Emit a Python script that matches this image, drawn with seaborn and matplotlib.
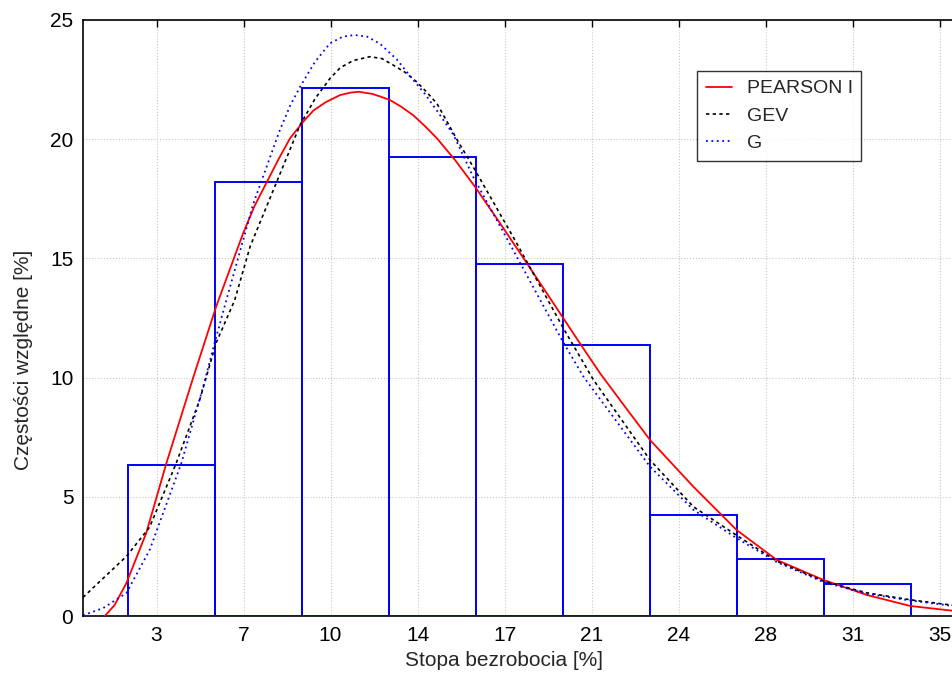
import matplotlib
matplotlib.use("Agg")
import matplotlib.pyplot as plt
import seaborn as sns
import numpy as np
import pandas as pd

# histogram: bin edges and relative frequencies [%]
bin_edges = [1.85, 5.40, 8.95, 12.50, 16.05, 19.60, 23.15, 26.70, 30.25, 33.80]
freq = [6.33, 18.2, 22.15, 19.25, 14.77, 11.37, 4.24, 2.39, 1.34]

# fitted densities
pearson_x = [0.89, 1.29, 1.77, 2.58, 3.4, 4.49, 5.43, 6.54, 7.0, 7.5, 8.0, 8.45, 9.0, 9.4,
             9.9, 10.49, 10.9, 11.24, 11.8, 12.1, 12.53, 13.0, 13.48, 13.95, 14.44, 15.2,
             16.0, 17.0, 18.11, 19.6, 20.3, 21.1, 22.1, 23.14, 24.91, 26.68, 28.31,
             30.22, 31.99, 33.76, 35.5, 36.5]
pearson_y = [0.0, 0.46, 1.38, 3.48, 6.4, 9.98, 12.97, 16.07, 17.2, 18.2, 19.2, 20.04, 20.75, 21.2,
             21.55, 21.85, 21.95, 21.99, 21.9, 21.8, 21.64, 21.35, 21.0, 20.55, 20.04, 19.1,
             18.0, 16.5, 14.8, 12.49, 11.4, 10.18, 8.8, 7.38, 5.42, 3.6, 2.35,
             1.51, 0.88, 0.42, 0.22, 0.15]

gev_x = [0.0, 0.82, 1.77, 2.72, 3.8, 4.76, 5.43, 6.19, 6.82, 7.9, 8.86, 9.47, 10.08, 10.5,
         11.03, 11.71, 12.2, 12.67, 13.15, 13.62, 14.0, 14.44, 15.25, 16.0, 17.7, 19.6,
         20.83, 23.14, 24.91, 26.75, 28.31, 30.22, 31.99, 33.76, 35.5, 36.5]
gev_y = [0.78, 1.58, 2.5, 3.73, 6.4, 9.06, 11.45, 13.25, 15.5, 18.2, 20.6, 21.7, 22.55, 23.0,
         23.3, 23.46, 23.38, 23.1, 22.8, 22.4, 22.0, 21.5, 20.0, 18.7, 15.63, 12.07,
         9.9, 6.54, 4.58, 3.33, 2.3, 1.46, 0.97, 0.68, 0.45, 0.36]

g_x = [0.0, 0.82, 1.77, 2.72, 4.01, 4.9, 5.37, 5.85, 6.95, 8.04, 8.45, 8.86, 9.47, 10.08,
       10.6, 11.1, 11.6, 12.12, 12.8, 13.48, 13.95, 14.44, 15.12, 15.93, 17.7, 19.54,
       20.42, 23.14, 24.91, 26.68, 28.31, 30.22, 31.99, 33.76, 35.5, 36.5]
g_y = [0.03, 0.33, 0.96, 2.77, 6.4, 9.6, 11.45, 13.25, 17.3, 20.4, 21.4, 22.2, 23.25, 24.02,
       24.3, 24.37, 24.3, 24.0, 23.35, 22.48, 21.9, 21.2, 20.18, 18.4, 15.07, 11.58,
       10.04, 6.26, 4.45, 3.26, 2.26, 1.42, 0.93, 0.65, 0.42, 0.34]

xtick_labels = ["3", "7", "10", "14", "17", "21", "24", "28", "31", "35"]

sns.set_style("white")
plt.rcParams['font.family'] = ['Liberation Sans', 'DejaVu Sans']

fig = plt.figure(figsize=(9.53, 6.77), dpi=100)
ax = fig.add_axes([0.0871, 0.0901, 0.93, 0.8804])

centers = [(bin_edges[i] + bin_edges[i + 1]) / 2 for i in range(len(freq))]
sns.histplot(x=centers, weights=freq, bins=bin_edges, fill=False, color="#0000ff",
             linewidth=1.4, element="bars", ax=ax, zorder=3)

sns.lineplot(x=pearson_x, y=pearson_y, color="red", linewidth=1.3, ax=ax,
             estimator=None, label="PEARSON I", zorder=4)
sns.lineplot(x=gev_x, y=gev_y, color="black", linewidth=1.2, ax=ax,
             estimator=None, label="GEV", zorder=4)
sns.lineplot(x=g_x, y=g_y, color="#0000ff", linewidth=1.3, ax=ax,
             estimator=None, label="G", zorder=4)
ax.lines[1].set_dashes([2, 2])
ax.lines[2].set_dashes([1, 2])

xt = 3.0 + 3.55 * np.arange(len(xtick_labels))
ax.set_xticks(xt)
ax.set_xticklabels(xtick_labels)
ax.set_yticks([0, 5, 10, 15, 20, 25])
ax.set_xlim(0, 0.93 * 953 / 24.507)
ax.set_ylim(0, 25)

ax.grid(True, color="#c8c8c8", linestyle=":", linewidth=0.8)
ax.set_axisbelow(True)
ax.tick_params(direction="in", top=True, right=False, length=5, labelsize=15,
               colors="black", width=1)
ax.tick_params(axis="x", pad=7)
ax.tick_params(axis="y", pad=7)
for s in ax.spines.values():
    s.set_color("black")
    s.set_linewidth(1.2)

ax.set_xlabel("Stopa bezrobocia [%]", fontsize=15)
ax.set_ylabel("Częstości względne [%]", fontsize=15)
ax.xaxis.set_label_coords(504 / 953, 1 - 651 / 677, transform=fig.transFigure)
ax.yaxis.set_label_coords(33 / 953, 1 - 360 / 677, transform=fig.transFigure)

leg = ax.legend(loc="upper left", bbox_to_anchor=(697 / 953, 1 - 71 / 677),
                bbox_transform=fig.transFigure, fontsize=14, frameon=True,
                fancybox=False, handlelength=1.35, handletextpad=0.75,
                borderpad=0.45, labelspacing=0.5, borderaxespad=0)
leg.get_frame().set_edgecolor("black")
leg.get_frame().set_linewidth(1.0)

fig.savefig("out.png", dpi=100)
